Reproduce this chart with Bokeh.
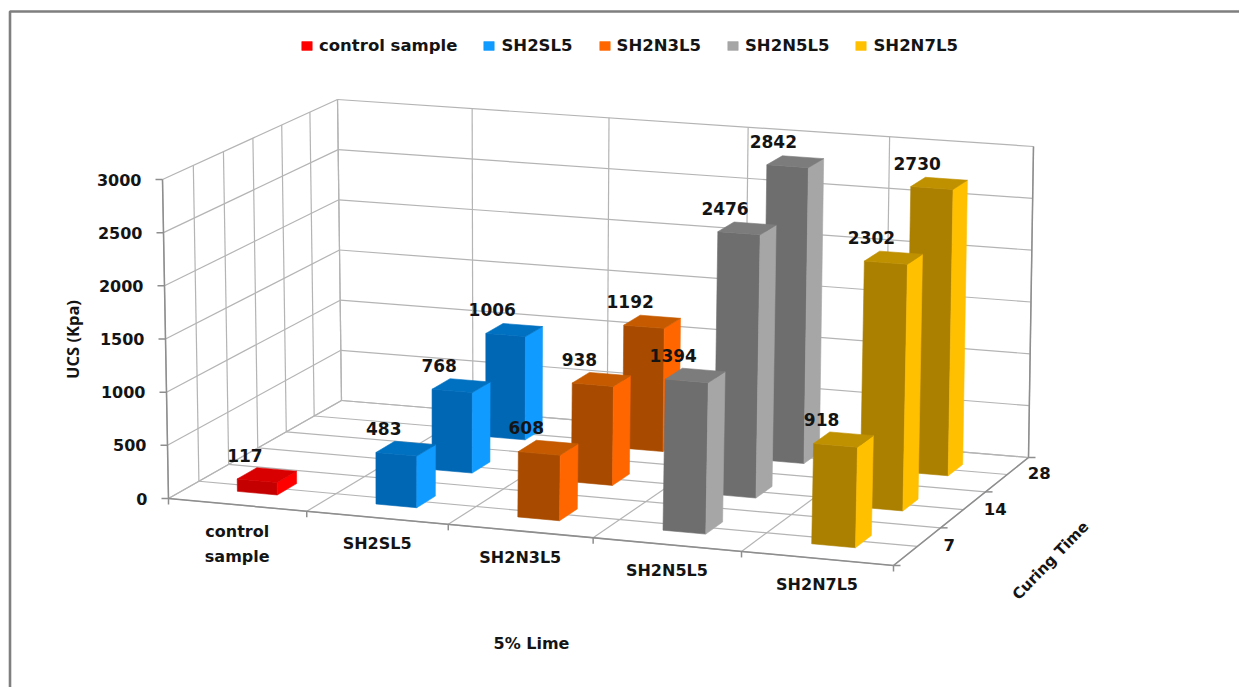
import numpy as np
from bokeh.plotting import figure
from bokeh.models import Legend, LegendItem
from bokeh.core.properties import value as fixed
from bokeh.embed import file_html
from bokeh.resources import INLINE

# ---------- data ----------
categories = ["control\nsample", "SH2SL5", "SH2N3L5", "SH2N5L5", "SH2N7L5"]
legend_names = ["control sample", "SH2SL5", "SH2N3L5", "SH2N5L5", "SH2N7L5"]
curing_times = ["7", "14", "28"]
control_sample = [117, None, None]
sh2sl5 = [483, 768, 1006]
sh2n3l5 = [608, 938, 1192]
sh2n5l5 = [1394, 2476, 2842]
sh2n7l5 = [918, 2302, 2730]
series_values = [control_sample, sh2sl5, sh2n3l5, sh2n5l5, sh2n7l5]
value_ticks = [0, 500, 1000, 1500, 2000, 2500, 3000]

front_colors = ["#C40000", "#0067B5", "#A84B00", "#6E6E6E", "#AB8000"]
side_colors = ["#FF0000", "#0F9BFF", "#FF6600", "#A6A6A6", "#FFC000"]
top_colors = ["#D80000", "#0070C0", "#C55A00", "#7C7C7C", "#BF9000"]

# ---------- projection calibration (picture pixels) ----------
FLOOR = [(168, 498), (893, 565), (1028, 457), (341, 400)]
ROOF = [(162, 179), (900, 233), (1033, 146), (337, 99)]
VMAX = 3000.0
NC, NR = len(categories), len(curing_times)
BAR_U, BAR_V = 0.29, 0.11


def homography(pts):
    src = [(0, 0), (1, 0), (1, 1), (0, 1)]
    A, b = [], []
    for (s, t), (x, y) in zip(src, pts):
        A.append([s, t, 1, 0, 0, 0, -s * x, -t * x]); b.append(x)
        A.append([0, 0, 0, s, t, 1, -s * y, -t * y]); b.append(y)
    return np.append(np.linalg.solve(np.array(A, float), np.array(b, float)), 1).reshape(3, 3)


HF, HR = homography(FLOOR), homography(ROOF)


def apply(H, s, t):
    q = H @ np.array([s, t, 1.0])
    return q[:2] / q[2]


def P(u, v, val=0.0):
    w = val / VMAX
    a, b = apply(HF, u / NC, v), apply(HR, u / NC, v)
    return tuple(a + (b - a) * w)


def poly(points):
    return [p[0] for p in points], [p[1] for p in points]


# ---------- figure in picture pixels ----------
W, H = 1239, 687
p = figure(width=W, height=H, x_range=(0, W), y_range=(H, 0),
           output_backend="svg", toolbar_location=None, min_border=0,
           x_axis_type=None, y_axis_type=None)
p.grid.visible = False
p.outline_line_color = None
p.background_fill_color = "white"
p.border_fill_color = "white"

# outer frame (left and top edges only)
p.line([9.5, 9.5, W], [H, 11, 11], line_color="#7F7F7F", line_width=2.6)

# ---------- walls and floor grid ----------
gx, gy = [], []


def seg(a, b):
    gx.append([a[0], b[0]]); gy.append([a[1], b[1]])


for t in value_ticks:
    seg(P(0, 0, t), P(0, 1, t))
    seg(P(0, 1, t), P(NC, 1, t))
for k in range(2 * NR + 1):
    seg(P(0, k / (2 * NR), 0), P(0, k / (2 * NR), VMAX))
    seg(P(0, k / (2 * NR), 0), P(NC, k / (2 * NR), 0))
for c in range(NC + 1):
    seg(P(c, 1, 0), P(c, 1, VMAX))
    seg(P(c, 0, 0), P(c, 1, 0))
p.multi_line(gx, gy, line_color="#B4B4B4", line_width=1.2)

# axes
ax, ay = [], []
gx, gy = ax, ay
seg(P(0, 0, 0), P(0, 0, VMAX))
seg(P(0, 0, 0), P(NC, 0, 0))
seg(P(NC, 0, 0), P(NC, 1, 0))
seg(P(NC, 1, 0), P(NC, 1, VMAX))
for t in value_ticks:
    a = P(0, 0, t); seg(a, (a[0] - 7, a[1]))
for c in range(NC + 1):
    a = P(c, 0, 0); seg(a, (a[0], a[1] + 6))
for r in range(NR + 1):
    a = P(NC, r / NR, 0); seg(a, (a[0] + 7, a[1]))
p.multi_line(ax, ay, line_color="#8E8E8E", line_width=1.5)

# ---------- bars ----------
items = []
lab_x, lab_y, lab_t = [], [], []
for c, vals in enumerate(series_values):
    xs, ys, cols = [], [], []
    side_index = 0
    for r in reversed(range(NR)):
        v = vals[r]
        if v is None:
            continue
        uc, vc = c + 0.5, (r + 0.5) / NR
        u0, u1 = uc - BAR_U / 2, uc + BAR_U / 2
        v0, v1 = vc - BAR_V / 2, vc + BAR_V / 2
        front = [P(u0, v0), P(u1, v0), P(u1, v0, v), P(u0, v0, v)]
        side = [P(u1, v0), P(u1, v1), P(u1, v1, v), P(u1, v0, v)]
        top = [P(u0, v0, v), P(u1, v0, v), P(u1, v1, v), P(u0, v1, v)]
        side_index = len(xs) + 1
        for face, col in ((front, front_colors[c]), (side, side_colors[c]), (top, top_colors[c])):
            fx, fy = poly(face)
            xs.append(fx); ys.append(fy); cols.append(col)
        tc = P(uc, vc, v)
        lab_x.append(tc[0]); lab_y.append(tc[1]); lab_t.append(str(v))
    rend = p.patches(xs, ys, fill_color=cols, line_color=cols, line_width=0.6)
    items.append(LegendItem(label=legend_names[c], renderers=[rend], index=side_index))

FONT = fixed("DejaVu Sans")
common = dict(text_font=FONT, text_font_style="bold", text_color="#141414")

# bar labels
p.text(lab_x, lab_y, text=lab_t, x_offset=-22, y_offset=-20, text_align="center",
       text_baseline="middle", text_font_size="17px", **common)

# value tick labels
pts = [P(0, 0, t) for t in value_ticks]
p.text([a[0] for a in pts], [a[1] for a in pts], text=[str(t) for t in value_ticks], x_offset=-21,
       text_align="right", text_baseline="middle", text_font_size="16px", **common)

# category labels
pts = [P(c + 0.5, 0, 0) for c in range(NC)]
cat_offsets = [39 if "\n" in name else 26 for name in categories]
p.text([a[0] for a in pts], [a[1] for a in pts], text=categories, y_offset=cat_offsets, text_align="center",
       text_baseline="middle", text_font_size="16px", text_line_height=1.3, **common)

# curing time labels
pts = [P(NC, (r + 0.5) / NR, 0) for r in range(NR)]
p.text([a[0] for a in pts], [a[1] for a in pts], text=curing_times, x_offset=32, y_offset=-1,
       text_align="center", text_baseline="middle", text_font_size="16.5px", **common)

# axis titles
p.text([72], [339], text=["UCS (Kpa)"], angle=np.pi / 2, text_align="center", text_baseline="middle",
       text_font_size="16.5px", text_font=fixed("Open Sans"), text_font_style="bold", text_color="#141414")
p.text([531], [643], text=["5% Lime"], text_align="center", text_baseline="middle",
       text_font_size="16px", **common)
p.text([1050], [560], text=["Curing Time"], angle=np.radians(46), text_align="center", text_baseline="middle",
       text_font_size="15px", **common)

# legend
leg = Legend(items=items, orientation="horizontal", location=(300, 632), border_line_color=None,
             background_fill_alpha=0, glyph_width=13, glyph_height=11, label_standoff=6, spacing=25,
             padding=0, margin=0, label_text_font="DejaVu Sans", label_text_font_style="bold",
             label_text_font_size="16.5px", label_text_color="#141414")
p.add_layout(leg, "center")

open("out.html", "w").write(file_html(p, INLINE))
